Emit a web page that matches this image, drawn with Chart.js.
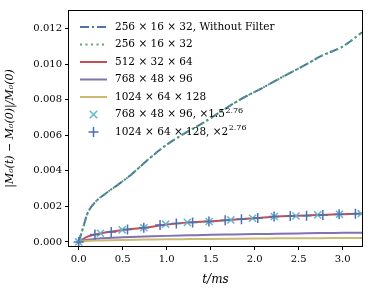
<!DOCTYPE html>
<html>
<head>
<meta charset="utf-8">
<script src="https://cdn.jsdelivr.net/npm/chart.js@4.4.1/dist/chart.umd.min.js"></script>
<style>
    html, body { margin: 0; padding: 0; background: #fff; }
</style>
</head>
<body>
<canvas id="myChart" width="373" height="295"></canvas>
<script>
// curve samples (t in ms)
const tNoFilter = [0, 0.05, 0.1, 0.18, 0.3, 0.44, 0.6, 0.78, 0.98, 1.2, 1.38, 1.51, 1.83, 2.1, 2.32, 2.55, 2.77, 3.0, 3.22];
const vNoFilter = [0, 0.0008, 0.0016, 0.0022, 0.0027, 0.0032, 0.0038, 0.0046, 0.0054, 0.0061, 0.0066, 0.0070, 0.0080, 0.0087, 0.0093, 0.0099, 0.0105, 0.0110, 0.0118];

const tGrid = [0, 0.1, 0.25, 0.5, 0.75, 1.0, 1.25, 1.5, 1.75, 2.0, 2.25, 2.5, 2.75, 3.0, 3.22];
const v512 = [0, 0.0003, 0.00048, 0.00067, 0.0008, 0.00098, 0.0011, 0.00116, 0.00125, 0.00133, 0.00143, 0.00147, 0.00152, 0.00156, 0.0016];
const v768 = [0, 0.00012, 0.0002, 0.00026, 0.0003, 0.00034, 0.00037, 0.0004, 0.00042, 0.00044, 0.00046, 0.00048, 0.0005, 0.00051, 0.00052];
const v1024 = [0, 0.00005, 0.00008, 0.00011, 0.00013, 0.00015, 0.00016, 0.00017, 0.00018, 0.00019, 0.0002, 0.00021, 0.00021, 0.00022, 0.00022];

// scaled markers
const t768s = [0, 0.247, 0.494, 0.741, 0.988, 1.235, 1.482, 1.729, 1.976, 2.223, 2.47, 2.717, 2.964, 3.211];
const v768s = [0, 0.00049, 0.00068, 0.0008, 0.001, 0.0011, 0.00115, 0.00124, 0.00133, 0.00143, 0.00146, 0.00152, 0.00156, 0.00159];
const t1024s = [0, 0.185, 0.37, 0.555, 0.74, 0.925, 1.11, 1.295, 1.48, 1.665, 1.85, 2.035, 2.22, 2.405, 2.59, 2.775, 2.96, 3.145];
const v1024s = [0, 0.00042, 0.00056, 0.0007, 0.0008, 0.00095, 0.00104, 0.0011, 0.00115, 0.00122, 0.00128, 0.00135, 0.00143, 0.00146, 0.00148, 0.00152, 0.00156, 0.00158];

const seriesLabels = [
    "256 × 16 × 32, Without Filter",
    "256 × 16 × 32",
    "512 × 32 × 64",
    "768 × 48 × 96",
    "1024 × 64 × 128",
    "768 × 48 × 96, ×1.5",
    "1024 × 64 × 128, ×2",
];
const labelSups = ["", "", "", "", "", "2.76", "2.76"];

const xTicks = [0, 0.5, 1.0, 1.5, 2.0, 2.5, 3.0];
const yTicks = [0, 0.002, 0.004, 0.006, 0.008, 0.010, 0.012];

const FONT = "'DejaVu Serif', serif";

function pts(xs, ys) {
    return xs.map((x, i) => ({ x: x, y: ys[i] }));
}

const datasets = [
    { label: seriesLabels[0], data: pts(tNoFilter, vNoFilter), borderColor: "#4c72b0", borderWidth: 2, borderDash: [9, 3, 2, 3], pointRadius: 0, order: 7 },
    { label: seriesLabels[1], data: pts(tNoFilter, vNoFilter), borderColor: "#55a868", borderWidth: 2, borderDash: [2, 3.5], pointRadius: 0, order: 6 },
    { label: seriesLabels[2], data: pts(tGrid, v512), borderColor: "#c44e52", borderWidth: 2, pointRadius: 0, order: 5 },
    { label: seriesLabels[3], data: pts(tGrid, v768), borderColor: "#8172b2", borderWidth: 2, pointRadius: 0, order: 4 },
    { label: seriesLabels[4], data: pts(tGrid, v1024), borderColor: "#ccb974", borderWidth: 2, pointRadius: 0, order: 3 },
    { label: seriesLabels[5], data: pts(t768s, v768s), showLine: false, pointStyle: "crossRot", pointRadius: 5, pointBorderWidth: 1.5, borderColor: "#64b5cd", order: 2 },
    { label: seriesLabels[6], data: pts(t1024s, v1024s), showLine: false, pointStyle: "cross", pointRadius: 5, pointBorderWidth: 1.5, borderColor: "#4c72b0", order: 1 },
];
datasets.forEach((d) => {
    d.fill = false;
    d.cubicInterpolationMode = "monotone";
    d.backgroundColor = d.borderColor;
    d.borderCapStyle = "butt";
});

// frame round the plot area
const framePlugin = {
    id: "frame",
    afterDatasetsDraw(chart) {
        const { ctx, chartArea: a } = chart;
        ctx.save();
        ctx.strokeStyle = "#000";
        ctx.lineWidth = 1;
        ctx.strokeRect(Math.round(a.left) - 0.5, Math.round(a.top) - 0.5, Math.round(a.right - a.left) + 1, Math.round(a.bottom - a.top) + 1);
        ctx.restore();
    },
};

// legend drawn by hand so the exponent can be a real superscript
const texLegend = {
    id: "texLegend",
    afterDraw(chart) {
        const ctx = chart.ctx;
        const x0 = 80, x1 = 107, tx = 115, y0 = 27, step = 17.5;
        ctx.save();
        chart.data.datasets.forEach((ds, i) => {
            const y = y0 + i * step;
            ctx.strokeStyle = ds.borderColor;
            if (ds.showLine === false) {
                const r = 5, xc = (x0 + x1) / 2;
                ctx.lineWidth = 1.5;
                ctx.beginPath();
                if (ds.pointStyle === "crossRot") {
                    const d = r * 0.75;
                    ctx.moveTo(xc - d, y - d); ctx.lineTo(xc + d, y + d);
                    ctx.moveTo(xc - d, y + d); ctx.lineTo(xc + d, y - d);
                } else {
                    ctx.moveTo(xc - r, y); ctx.lineTo(xc + r, y);
                    ctx.moveTo(xc, y - r); ctx.lineTo(xc, y + r);
                }
                ctx.stroke();
            } else {
                ctx.lineWidth = ds.borderWidth;
                ctx.setLineDash(ds.borderDash || []);
                ctx.beginPath();
                ctx.moveTo(x0, y); ctx.lineTo(x1, y);
                ctx.stroke();
                ctx.setLineDash([]);
            }
            ctx.fillStyle = "#000";
            ctx.font = "10.5px " + FONT;
            ctx.textBaseline = "middle";
            ctx.fillText(seriesLabels[i], tx, y);
            if (labelSups[i]) {
                const w = ctx.measureText(seriesLabels[i]).width;
                ctx.font = "8px " + FONT;
                ctx.fillText(labelSups[i], tx + w + 0.5, y - 4);
            }
        });
        ctx.restore();
    },
};

const tickFont = { family: FONT, size: 10 };

new Chart(document.getElementById("myChart"), {
    type: "line",
    data: { datasets },
    options: {
        responsive: false,
        animation: false,
        layout: { padding: { top: 11, right: 11, left: 0, bottom: 0 } },
        plugins: { legend: { display: false }, tooltip: { enabled: false } },
        scales: {
            x: {
                type: "linear",
                min: -0.11,
                max: 3.22,
                afterBuildTicks: (s) => { s.ticks = xTicks.map((v) => ({ value: v })); },
                afterFit: (s) => { s.height = 49; },
                ticks: { callback: (v) => v.toFixed(1), font: tickFont, color: "#000", padding: 3, maxRotation: 0 },
                grid: { drawOnChartArea: false, drawTicks: true, tickLength: 4, color: "#000" },
                border: { display: false },
                title: { display: true, text: "t/ms", font: { family: FONT, size: 12, style: "italic" }, color: "#000", padding: { top: 0, bottom: 8 } },
            },
            y: {
                type: "linear",
                min: -0.00023,
                max: 0.013,
                afterBuildTicks: (s) => { s.ticks = yTicks.map((v) => ({ value: v })); },
                afterFit: (s) => { s.width = 69; },
                ticks: { callback: (v) => v.toFixed(3), font: tickFont, color: "#000", padding: 3 },
                grid: { drawOnChartArea: false, drawTicks: true, tickLength: 4, color: "#000" },
                border: { display: false },
                title: { display: true, text: "|M₀(t) − M₀(0)|/M₀(0)", font: { family: FONT, size: 11, style: "italic" }, color: "#000", padding: { top: 4, bottom: 0 } },
            },
        },
    },
    plugins: [framePlugin, texLegend],
});
</script>
</body>
</html>
